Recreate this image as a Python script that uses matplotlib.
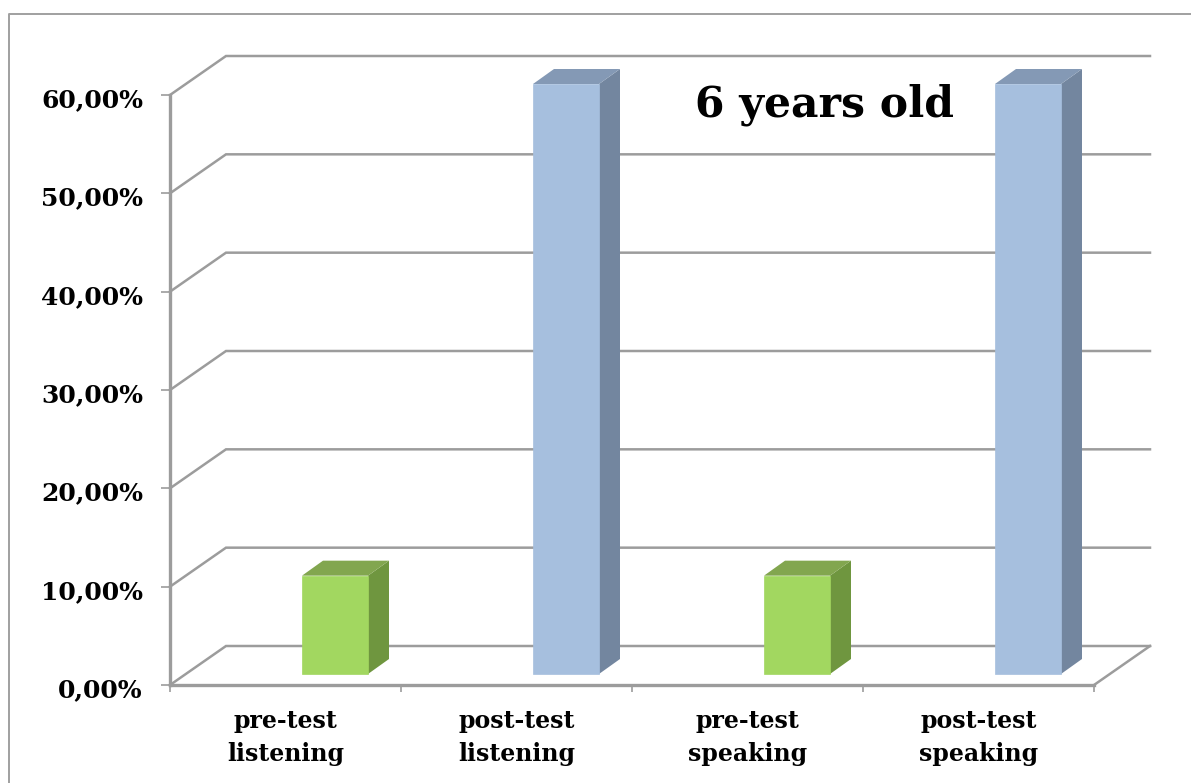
import matplotlib
matplotlib.use('Agg')
import matplotlib.pyplot as plt
from matplotlib.lines import Line2D
from matplotlib.transforms import ScaledTranslation

categories = ['pre-test\nlistening', 'post-test\nlistening', 'pre-test\nspeaking', 'post-test\nspeaking']
values = [10, 60, 10, 60]
y_ticks = [0, 10, 20, 30, 40, 50, 60]
y_labels = ['0,00%', '10,00%', '20,00%', '30,00%', '40,00%', '50,00%', '60,00%']

W, H = 1191, 783
GREY = '#9c9c9c'
FONT = 'DejaVu Serif'

# plot area of the front plane, in pixels
left, right, top, bottom = 170, 1094, 95, 685

fig = plt.figure(figsize=(W / 100, H / 100), dpi=100)
ax = fig.add_axes([left / W, 1 - bottom / H, (right - left) / W, (bottom - top) / H])
ax.set_xlim(0, 4)
ax.set_ylim(0, 60)

# pixels to data units
px_x = 4 / (right - left)
px_y = 60 / (bottom - top)

# depth of the chart box and of the bars
depth_x, depth_y = 56 * px_x, 39 * px_y
bar_dx, bar_dy = 21 * px_x, 15 * px_y
bar_lift = 11 * px_y
bar_width = 66 * px_x
bar_left = 132 * px_x

# walls: gridlines run back from the axis and then across
for t in y_ticks:
    ax.plot([0, depth_x, 4 + depth_x], [t, t + depth_y, t + depth_y],
            color=GREY, lw=1.8, clip_on=False, zorder=1, solid_joinstyle='miter')
ax.plot([4, 4 + depth_x], [0, depth_y], color=GREY, lw=1.8, clip_on=False, zorder=1)

colors = {
    'pre': ('#a2d760', '#82a64f', '#6f963f'),
    'post': ('#a6bfde', '#8499b5', '#73869f'),
}

for i, (cat, v) in enumerate(zip(categories, values)):
    front, roof, side = colors[cat.split('-')[0]]
    x0 = i + bar_left
    x1 = x0 + bar_width
    y0 = bar_lift
    y1 = v + bar_lift
    ax.fill([x1, x1 + bar_dx, x1 + bar_dx, x1],
            [y0, y0 + bar_dy, y1 + bar_dy, y1], color=side, lw=0, clip_on=False, zorder=3)
    ax.fill([x0, x0 + bar_dx, x1 + bar_dx, x1],
            [y1, y1 + bar_dy, y1 + bar_dy, y1], color=roof, lw=0, clip_on=False, zorder=3)
    ax.bar(x0, v, bottom=y0, width=bar_width, align='edge', color=front,
           edgecolor=front, lw=0.5, clip_on=False, zorder=4)

for s in ['top', 'right']:
    ax.spines[s].set_visible(False)
for s in ['left', 'bottom']:
    ax.spines[s].set_color(GREY)
    ax.spines[s].set_linewidth(2.4)
    ax.spines[s].set_zorder(2)

ax.patch.set_visible(False)
ax.set_yticks(y_ticks)
ax.set_yticklabels(y_labels, fontfamily=FONT, fontweight='bold', fontsize=18, color='black')
ax.tick_params(axis='y', length=6.5, width=1.2, color=GREY, pad=13)
# labels sit a little under their ticks
for lab in ax.get_yticklabels():
    lab.set_transform(lab.get_transform() + ScaledTranslation(0, -2 / 72, fig.dpi_scale_trans))

ax.set_xticks(range(5))
ax.set_xticklabels([])
ax.tick_params(axis='x', which='major', length=5, width=1.2, color=GREY)
ax.set_xticks([i + 0.5 for i in range(4)], minor=True)
ax.set_xticklabels(categories, minor=True, fontfamily=FONT, fontweight='bold',
                   fontsize=17, color='black', linespacing=1.5)
ax.tick_params(axis='x', which='minor', length=0, pad=17)

ax.text(2.835, 59, '6 years old', fontfamily=FONT, fontweight='bold', fontsize=30.6,
        color='black', ha='center', va='center', zorder=5)

# outer frame, open to the right and bottom
fig.add_artist(Line2D([8.5 / W, 8.5 / W, 1], [0, 1 - 13.5 / H, 1 - 13.5 / H],
                      color='#a0a0a0', lw=1.4, transform=fig.transFigure))

fig.savefig('out.png', dpi=100)
